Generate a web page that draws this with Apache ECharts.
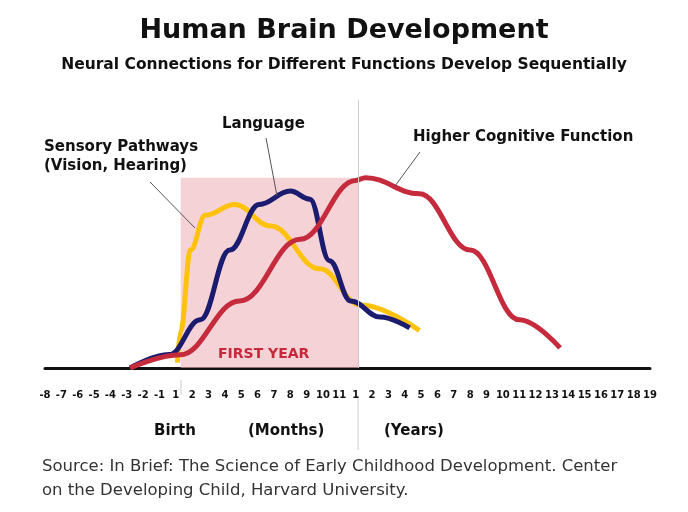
<!DOCTYPE html><html><head><meta charset="utf-8"><script src="https://cdn.jsdelivr.net/npm/echarts@6/dist/echarts.min.js"></script></head><body style="margin:0;background:#fff"><div id="c" style="width:688px;height:512px"></div><script>
const tickLabels=['-8','-7','-6','-5','-4','-3','-2','-1','1','2','3','4','5','6','7','8','9','10','11','1','2','3','4','5','6','7','8','9','10','11','12','13','14','15','16','17','18','19'];
const sensory=[[8.1,2],[8.3,14],[8.9,44],[9.8,57],[11.6,61],[13.8,53],[16.8,37],[19.3,23.5],[22.9,14]];
const language=[[5.2,0],[7.6,5],[9.5,18],[11.3,44],[13.1,61],[15,66],[16.2,63],[17.4,40],[18.7,25],[20.5,19],[22.3,15]];
const higher=[[5.2,0],[8.26,4.9],[11.9,25],[15.6,48],[19,70],[19.6,71],[22.9,65],[26,44],[29,18],[31.5,7.5]];
const firstYear=[8.3,19.15];
const ch=echarts.init(document.getElementById('c'));
const f='"DejaVu Sans",Verdana,sans-serif';
const ln=(d,c)=>({type:'line',data:d,smooth:0.4,smoothMonotone:'x',showSymbol:false,lineStyle:{width:5,color:c},z:3});
ch.setOption({animation:false,
title:[{text:'Human Brain Development',left:'center',top:12,textStyle:{fontFamily:f,fontSize:27,fontWeight:'bold',color:'#111'}},
{text:'Neural Connections for Different Functions Develop Sequentially',left:'center',top:52,textStyle:{fontFamily:f,fontSize:15.5,fontWeight:'bold',color:'#111'}}],
grid:{left:45,right:38,top:100,bottom:144},
xAxis:{type:'value',min:0,max:37,interval:1,splitLine:{show:false},axisTick:{show:false},
 axisLine:{lineStyle:{color:'#111',width:3}},
 axisLabel:{margin:22,fontFamily:f,fontSize:10,fontWeight:'bold',color:'#111',formatter:v=>tickLabels[v]}},
yAxis:{type:'value',min:0,max:100,show:false},
series:[
 {type:'line',data:[],markArea:{silent:true,itemStyle:{color:'rgba(236,180,185,0.6)'},data:[[{xAxis:firstYear[0],yAxis:0},{xAxis:firstYear[1],yAxis:71}]]},
  markLine:{silent:true,symbol:'none',label:{show:false},lineStyle:{color:'#ccc',width:1,type:'solid'},data:[{xAxis:firstYear[1]}]}},
 ln(sensory,'#ffc20e'),ln(language,'#1b1b70'),ln(higher,'#c52a3d')],
graphic:[
 {type:'text',z:100,left:218,top:347,style:{text:'FIRST YEAR',font:'bold 14px '+f,fill:'#c8283c'}},
 {type:'text',z:100,left:44,top:138,style:{text:'Sensory Pathways\n(Vision, Hearing)',font:'bold 15px '+f,fill:'#111',lineHeight:19}},
 {type:'text',z:100,left:222,top:117,style:{text:'Language',font:'bold 15px '+f,fill:'#111'}},
 {type:'text',z:100,left:413,top:130,style:{text:'Higher Cognitive Function',font:'bold 15px '+f,fill:'#111'}},
 {type:'line',z:100,shape:{x1:150,y1:182,x2:195,y2:228},style:{stroke:'#555',lineWidth:1}},
 {type:'line',z:100,shape:{x1:266,y1:138,x2:277,y2:196},style:{stroke:'#555',lineWidth:1}},
 {type:'line',z:100,shape:{x1:420,y1:152,x2:395,y2:186},style:{stroke:'#555',lineWidth:1}},
 {type:'line',shape:{x1:358,y1:395,x2:358,y2:450},style:{stroke:'#ccc',lineWidth:1}},
 {type:'line',shape:{x1:181,y1:380,x2:181,y2:395},style:{stroke:'#ccc',lineWidth:1}},
 {type:'text',left:154,top:424,style:{text:'Birth',font:'bold 15px '+f,fill:'#111'}},
 {type:'text',left:248,top:424,style:{text:'(Months)',font:'bold 15px '+f,fill:'#111'}},
 {type:'text',left:384,top:424,style:{text:'(Years)',font:'bold 15px '+f,fill:'#111'}},
 {type:'text',left:42,top:455,style:{text:'Source: In Brief: The Science of Early Childhood Development. Center\non the Developing Child, Harvard University.',font:'16.5px '+f,fill:'#333',lineHeight:24}}
]});
</script></body></html>
